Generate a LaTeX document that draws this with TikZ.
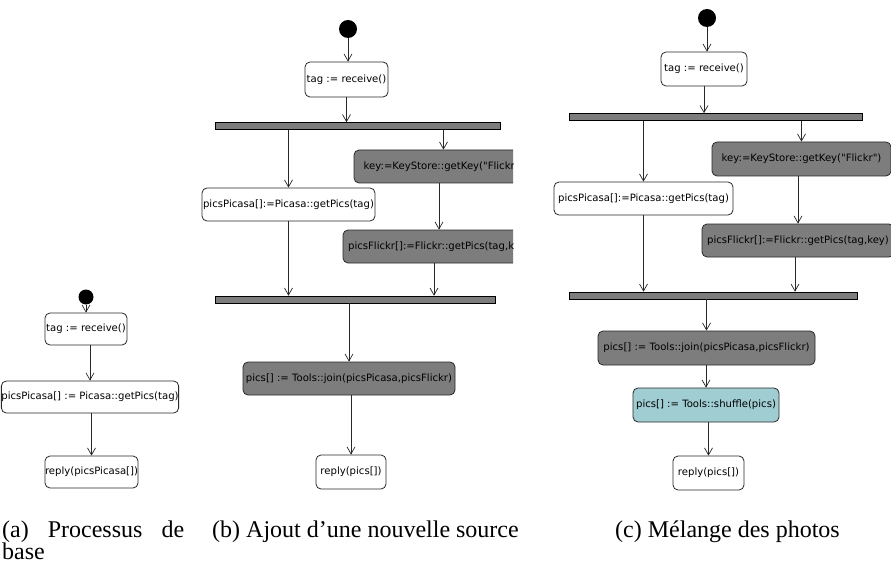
\documentclass[tikz,border=0pt]{standalone}
\usepackage{fontspec}
\setmainfont{Liberation Serif}
\newfontfamily\boxfont{DejaVu Sans}
\usetikzlibrary{arrows.meta}
\definecolor{actgray}{RGB}{125,125,125}
\definecolor{tealfill}{RGB}{160,205,210}
\definecolor{linec}{RGB}{40,40,40}
\tikzset{
  act/.style={draw=linec, line width=0.8pt, rounded corners=5pt, fill=white, inner sep=0pt,
    font=\boxfont\fontsize{10.1}{12}\selectfont, text=black},
  gact/.style={act, fill=actgray},
  tact/.style={act, fill=tealfill},
  syncbar/.style={draw=black, line width=0.6pt, fill=actgray, inner sep=0pt, minimum height=7pt},
  startnode/.style={circle, fill=black, inner sep=0pt},
  arr/.style={draw=linec, line width=0.7pt, -{Straight Barb[length=7pt,width=8pt]}},
  captext/.style={inner sep=0pt, font=\fontsize{24}{25}\selectfont}
}
\begin{document}
\begin{tikzpicture}[x=1pt,y=-1pt]
\useasboundingbox (0,0) rectangle (891,564);
\fill[white] (0,0) rectangle (891,564);

% ---------- panel (a)
\node[startnode, minimum size=15pt] (startA) at (86,297) {};
\node[act, minimum width=82pt, minimum height=32pt] (tagA) at (86,329) {tag := receive()};
\node[act, minimum width=164pt, minimum height=32pt] (picA) at (90,397) {picsPicasa[] := Picasa::getPics(tag)};
\node[act, minimum width=85pt, minimum height=32pt] (repA) at (91.5,472) {reply(picsPicasa[])};
\draw[arr] (startA) -- (tagA);
\draw[arr] (picA.north |- tagA.south) -- (picA.north);
\draw[arr] (repA.north |- picA.south) -- (repA.north);

% ---------- panel (b)
\begin{scope}
\clip (195,0) rectangle (513,500);
\node[startnode, minimum size=18pt] (startB) at (348,29) {};
\node[act, minimum width=83pt, minimum height=35pt] (tagB) at (346.5,79.5) {tag := receive()};
\node[syncbar, minimum width=285pt] (forkB) at (357.5,126) {};
\node[act, minimum width=173pt, minimum height=33pt] (picB) at (288.5,204.5) {picsPicasa[]:=Picasa::getPics(tag)};
\node[gact, minimum width=179pt, minimum height=33pt] (keyB) at (443.5,166.5) {key:=KeyStore::getKey("Flickr")};
\node[gact, minimum width=192pt, minimum height=33pt] (flickrB) at (439,246.5) {picsFlickr[]:=Flickr::getPics(tag,key)};
\node[syncbar, minimum width=280pt] (joinbarB) at (355,299.5) {};
\node[gact, minimum width=212pt, minimum height=33pt] (joinB) at (349,378.5) {pics[] := Tools::join(picsPicasa,picsFlickr)};
\node[act, minimum width=70pt, minimum height=34pt] (repB) at (351,472) {reply(pics[])};
\draw[arr] (startB.south) -- (startB.south |- tagB.north);
\draw[arr] (tagB.south) -- (tagB.south |- forkB.north);
\draw[arr] (forkB.south -| picB.north) -- (picB.north);
\draw[arr] (forkB.south -| keyB.north) -- (keyB.north);
\draw[arr] (flickrB.north |- keyB.south) -- (flickrB.north);
\draw[arr] (picB.south) -- (picB.south |- joinbarB.north);
\draw[arr] ([xshift=-5pt]flickrB.south) -- ([xshift=-5pt]flickrB.south |- joinbarB.north);
\draw[arr] (joinbarB.south -| joinB.north) -- (joinB.north);
\draw[arr] (repB.north |- joinB.south) -- (repB.north);
\end{scope}

% ---------- panel (c)
\begin{scope}
\clip (545,0) rectangle (891,500);
\node[startnode, minimum size=18pt] (startC) at (707,18) {};
\node[act, minimum width=86pt, minimum height=34pt] (tagC) at (704,69) {tag := receive()};
\node[syncbar, minimum width=293pt] (forkC) at (715.5,117) {};
\node[gact, minimum width=179pt, minimum height=34pt] (keyC) at (801.5,159) {key:=KeyStore::getKey("Flickr")};
\node[act, minimum width=179pt, minimum height=33pt] (picC) at (643.5,198.5) {picsPicasa[]:=Picasa::getPics(tag)};
\node[gact, minimum width=192pt, minimum height=33pt] (flickrC) at (798,240.5) {picsFlickr[]:=Flickr::getPics(tag,key)};
\node[syncbar, minimum width=288pt] (joinbarC) at (713,295.5) {};
\node[gact, minimum width=217pt, minimum height=34pt] (joinC) at (706.5,348) {pics[] := Tools::join(picsPicasa,picsFlickr)};
\node[tact, minimum width=146pt, minimum height=34pt] (shufC) at (706,405) {pics[] := Tools::shuffle(pics)};
\node[act, minimum width=71pt, minimum height=34pt] (repC) at (708.5,473) {reply(pics[])};
\draw[arr] (startC.south) -- (startC.south |- tagC.north);
\draw[arr] (tagC.south) -- (tagC.south |- forkC.north);
\draw[arr] (forkC.south -| picC.north) -- (picC.north);
\draw[arr] (forkC.south -| keyC.north) -- (keyC.north);
\draw[arr] (flickrC.north |- keyC.south) -- (flickrC.north);
\draw[arr] (picC.south) -- (picC.south |- joinbarC.north);
\draw[arr] ([xshift=-3pt]flickrC.south) -- ([xshift=-3pt]flickrC.south |- joinbarC.north);
\draw[arr] (joinbarC.south -| joinC.north) -- (joinC.north);
\draw[arr] (shufC.north |- joinC.south) -- (shufC.north);
\draw[arr] (repC.north |- shufC.south) -- (repC.north);
\end{scope}

% ---------- captions
\node[captext, anchor=base west] (capA1) at (2,537) {\makebox[182pt][s]{(a) Processus de}};
\node[captext, anchor=base west] (capA2) at (2,559) {base};
\node[captext, anchor=base west] (capB) at (212,537) {(b) Ajout d’une nouvelle source};
\node[captext, anchor=base west] (capC) at (615,537) {(c) Mélange des photos};
\end{tikzpicture}
\end{document}
